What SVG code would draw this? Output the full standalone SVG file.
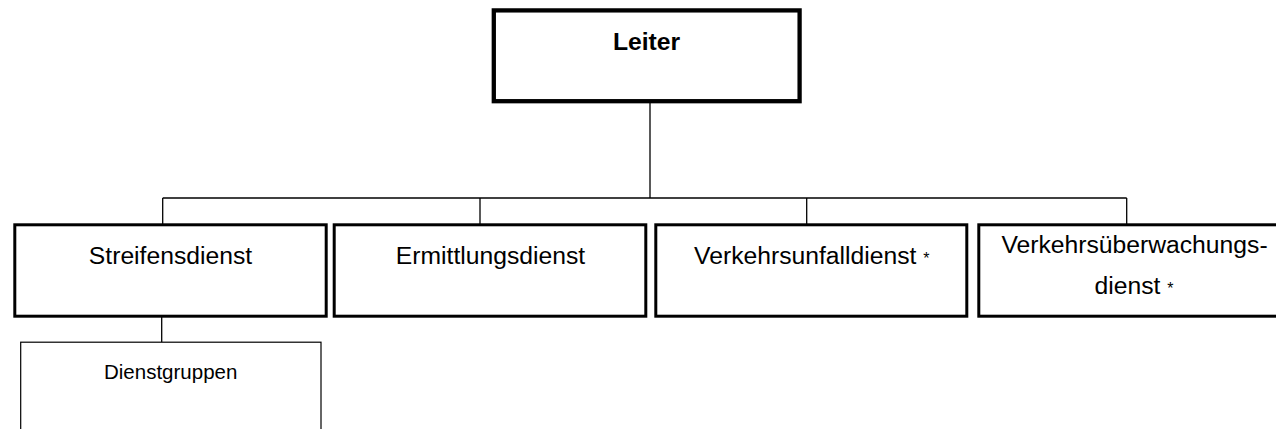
<svg xmlns="http://www.w3.org/2000/svg" width="1276" height="429" viewBox="0 0 1276 429">
  <style>
    .box { fill: #ffffff; stroke: #000000; stroke-width: 3; }
    .top { fill: #ffffff; stroke: #000000; stroke-width: 4.3; }
    .thin { fill: #ffffff; stroke: #000000; stroke-width: 1.2; }
    .conn { fill: none; stroke: #000000; stroke-width: 1.3; }
    .lbl { font-family: "Liberation Sans", Arial, sans-serif; font-size: 24.7px; fill: #000000; text-anchor: middle; }
    .bold { font-weight: bold; }
    .small { font-size: 20.5px; }
    .ast { font-size: 16px; }
  </style>
  <rect width="1276" height="429" fill="#ffffff"/>
  <g id="connectors">
    <path class="conn" d="M650 103 V198"/>
    <path class="conn" d="M162.7 198 H1126.7"/>
    <path class="conn" d="M162.7 198 V224"/>
    <path class="conn" d="M480 198 V224"/>
    <path class="conn" d="M806.7 198 V224"/>
    <path class="conn" d="M1126.7 198 V224"/>
    <path class="conn" d="M161.7 317 V342"/>
  </g>
  <g id="leiter">
    <rect class="top" x="493.8" y="10.4" width="305.8" height="90.8"/>
    <text class="lbl bold" x="646.5" y="50">Leiter</text>
  </g>
  <g id="streifensdienst">
    <rect class="box" x="14.8" y="224.8" width="311.4" height="91.4"/>
    <text class="lbl" x="170.5" y="264">Streifensdienst</text>
  </g>
  <g id="ermittlungsdienst">
    <rect class="box" x="334.2" y="224.8" width="311.6" height="91.4"/>
    <text class="lbl" x="490.5" y="264.3">Ermittlungsdienst</text>
  </g>
  <g id="verkehrsunfalldienst">
    <rect class="box" x="655.8" y="224.8" width="311" height="91.4"/>
    <text class="lbl" x="811.8" y="264">Verkehrsunfalldienst <tspan class="ast">*</tspan></text>
  </g>
  <g id="verkehrsueberwachungsdienst">
    <rect class="box" x="978.8" y="224.8" width="311.4" height="91.4"/>
    <text class="lbl" x="1134.5" y="253">Verkehrsüberwachungs-</text>
    <text class="lbl" x="1134" y="294">dienst <tspan class="ast">*</tspan></text>
  </g>
  <g id="dienstgruppen">
    <rect class="thin" x="20.7" y="342.2" width="300.3" height="120"/>
    <text class="lbl small" x="170.7" y="379.3">Dienstgruppen</text>
  </g>
</svg>
